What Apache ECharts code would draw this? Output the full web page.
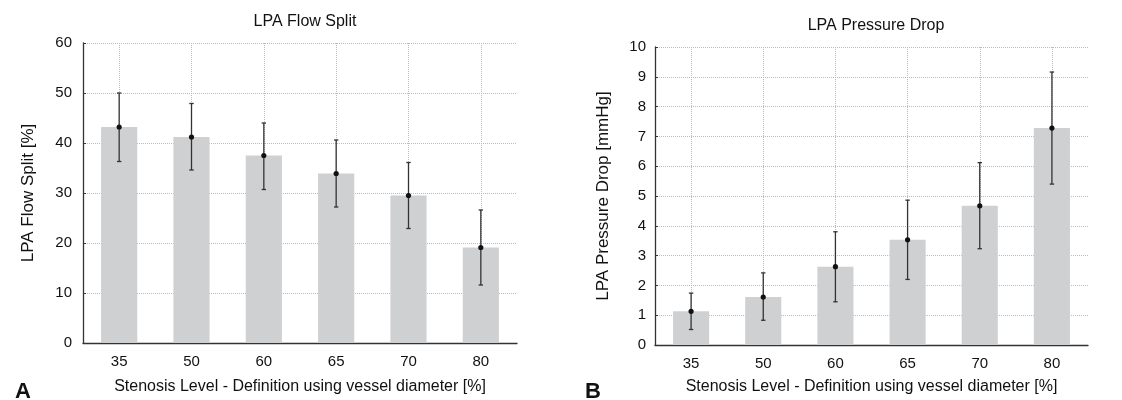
<!DOCTYPE html>
<html>
<head>
<meta charset="utf-8">
<script src="https://cdn.jsdelivr.net/npm/echarts@6/dist/echarts.min.js"></script>
<style>
html,body{margin:0;padding:0;background:#fff;}
#c{width:1122px;height:400px;}
</style>
</head>
<body>
<div id="c"></div>
<script>
// ---- data ----
const categories = ['35', '50', '60', '65', '70', '80'];
const flowMean = [43.2, 41.2, 37.5, 33.9, 29.5, 19.1];
const flowLow  = [36.3, 34.6, 30.7, 27.2, 22.9, 11.6];
const flowHigh = [50.0, 47.9, 44.0, 40.6, 36.1, 26.6];
const dropMean = [1.13, 1.61, 2.63, 3.53, 4.67, 7.28];
const dropLow  = [0.52, 0.83, 1.45, 2.20, 3.23, 5.40];
const dropHigh = [1.74, 2.42, 3.80, 4.86, 6.12, 9.16];
const titles = ['LPA Flow Split', 'LPA Pressure Drop'];
const yNames = ['LPA Flow Split [%]', 'LPA Pressure Drop [mmHg]'];
const xName = 'Stenosis Level - Definition using vessel diameter [%]';
const panelLetters = ['A', 'B'];

const FONT = '"Liberation Sans", Arial, Helvetica, sans-serif';
const TXT = '#111';

function errData(mean, lo, hi) {
  return mean.map((m, i) => [i, lo[i], hi[i], m]);
}

function renderErr(params, api) {
  const x = api.value(0);
  const pLo = api.coord([x, api.value(1)]);
  const pHi = api.coord([x, api.value(2)]);
  const pM = api.coord([x, api.value(3)]);
  const hw = 2.2;
  const st = { stroke: '#333', lineWidth: 1.3 };
  return {
    type: 'group',
    children: [
      { type: 'line', shape: { x1: pLo[0], y1: pLo[1], x2: pHi[0], y2: pHi[1] }, style: st },
      { type: 'line', shape: { x1: pLo[0] - hw, y1: pLo[1], x2: pLo[0] + hw, y2: pLo[1] }, style: st },
      { type: 'line', shape: { x1: pHi[0] - hw, y1: pHi[1], x2: pHi[0] + hw, y2: pHi[1] }, style: st },
      { type: 'circle', shape: { cx: pM[0], cy: pM[1], r: 2.6 }, style: { fill: '#111' } }
    ]
  };
}

function xAxisCfg(gi, nameGap) {
  return {
    type: 'category', gridIndex: gi, data: categories,
    name: xName, nameLocation: 'middle', nameGap: nameGap,
    nameTextStyle: { fontFamily: FONT, fontSize: 16, color: TXT },
    axisLine: { show: true, lineStyle: { color: '#333', width: 1.3 } },
    axisTick: { show: false },
    axisLabel: { fontFamily: FONT, fontSize: 15, color: TXT, margin: 11 },
    splitLine: { show: true, alignWithLabel: true, lineStyle: { color: '#bbb', type: 'dotted', width: 1 } }
  };
}

function yAxisCfg(gi, max, interval, name, nameGap, margin) {
  return {
    type: 'value', gridIndex: gi, min: 0, max: max, interval: interval,
    name: name, nameLocation: 'middle', nameGap: nameGap,
    nameTextStyle: { fontFamily: FONT, fontSize: 17, color: TXT },
    axisLine: { show: true, lineStyle: { color: '#333', width: 1.3 } },
    axisTick: { show: true, inside: true, length: 3, lineStyle: { color: '#333' } },
    axisLabel: { fontFamily: FONT, fontSize: 15, color: TXT, margin: margin },
    splitLine: { show: true, lineStyle: { color: '#bbb', type: 'dotted', width: 1 } }
  };
}

const chart = echarts.init(document.getElementById('c'), null, { renderer: 'canvas' });
chart.setOption({
  animation: false,
  backgroundColor: '#fff',
  title: [
    { text: titles[0], left: 300, top: 9, textAlign: 'center',
      textStyle: { fontFamily: FONT, fontSize: 16, fontWeight: 'normal', color: TXT } },
    { text: titles[1], left: 871, top: 13, textAlign: 'center',
      textStyle: { fontFamily: FONT, fontSize: 16, fontWeight: 'normal', color: TXT } },
    { text: panelLetters[0], left: 10, top: 376,
      textStyle: { fontFamily: FONT, fontSize: 22, fontWeight: 'bold', color: '#111' } },
    { text: panelLetters[1], left: 580, top: 376,
      textStyle: { fontFamily: FONT, fontSize: 22, fontWeight: 'bold', color: '#111' } }
  ],
  grid: [
    { left: 83, right: 605, top: 43, bottom: 56 },
    { left: 655, right: 34, top: 47, bottom: 52 }
  ],
  xAxis: [xAxisCfg(0, 36), xAxisCfg(1, 34)],
  yAxis: [
    yAxisCfg(0, 60, 10, yNames[0], 46, 11),
    yAxisCfg(1, 10, 1, yNames[1], 43, 9)
  ],
  series: [
    { type: 'bar', xAxisIndex: 0, yAxisIndex: 0, data: flowMean, barWidth: '50%',
      itemStyle: { color: '#cfd0d2' }, z: 2 },
    { type: 'custom', xAxisIndex: 0, yAxisIndex: 0, data: errData(flowMean, flowLow, flowHigh),
      renderItem: renderErr, z: 3 },
    { type: 'bar', xAxisIndex: 1, yAxisIndex: 1, data: dropMean, barWidth: '50%',
      itemStyle: { color: '#cfd0d2' }, z: 2 },
    { type: 'custom', xAxisIndex: 1, yAxisIndex: 1, data: errData(dropMean, dropLow, dropHigh),
      renderItem: renderErr, z: 3 }
  ]
});
</script>
</body>
</html>
